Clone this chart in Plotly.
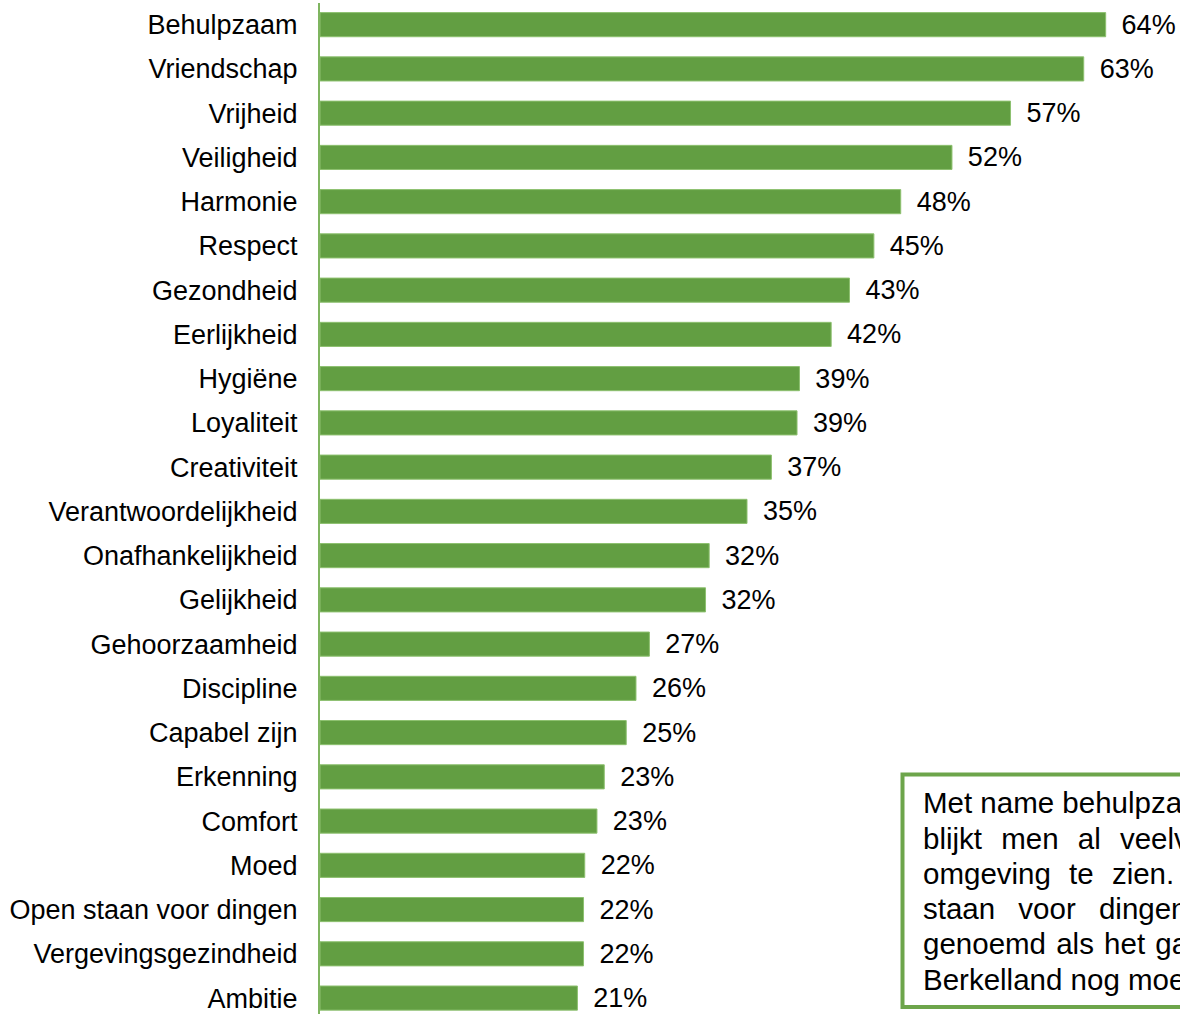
import plotly.graph_objects as go

categories = [
    "Behulpzaam", "Vriendschap", "Vrijheid", "Veiligheid", "Harmonie", "Respect",
    "Gezondheid", "Eerlijkheid", "Hygiëne", "Loyaliteit", "Creativiteit",
    "Verantwoordelijkheid", "Onafhankelijkheid", "Gelijkheid", "Gehoorzaamheid",
    "Discipline", "Capabel zijn", "Erkenning", "Comfort", "Moed",
    "Open staan voor dingen", "Vergevingsgezindheid", "Ambitie",
]
values = [
    64.4, 62.6, 56.6, 51.8, 47.6, 45.4,
    43.4, 41.9, 39.3, 39.1, 37.0,
    35.0, 31.9, 31.6, 27.0,
    25.9, 25.1, 23.3, 22.7, 21.7,
    21.6, 21.6, 21.1,
]
box_lines = [
    "Met name behulpzaamheid",
    "blijkt men al veelvuldig",
    "omgeving te zien. Open",
    "staan voor dingen wordt",
    "genoemd als het gaat",
    "Berkelland nog moet",
]
box_word_spacing = [0, 11, 10, 15, 2, 0]

FONT = "Liberation Sans, Arial, sans-serif"
FS = 27
FS_BOX = 29.5
W, H = 1180, 1014
L, T, B = 320, 3, 0

fig = go.Figure()
fig.add_trace(go.Bar(
    x=values, y=categories, orientation="h",
    marker=dict(color="#629E42", line=dict(color="#8DC06F", width=1)),
    texttemplate="\u00a0\u2009%{x:.0f}%", textposition="outside",
    constraintext="none",
    textfont=dict(family=FONT, size=FS, color="#000000"),
    cliponaxis=False, hoverinfo="skip",
))

plot_h = H - T - B
annotations = []
for i, line in enumerate(box_lines):
    ypix = 803 + i * 35.2
    ws = box_word_spacing[i]
    txt = f'<span style="word-spacing:{ws}px">{line}</span>' if ws else line
    annotations.append(dict(
        xref="paper", yref="paper",
        x=(921 - L) / (W - L), y=(H - B - ypix) / plot_h,
        xanchor="left", yanchor="middle", showarrow=False,
        text=txt, align="left",
        font=dict(family=FONT, size=FS_BOX, color="#000000"),
    ))

fig.update_layout(
    width=W, height=H,
    margin=dict(l=L, r=0, t=T, b=B, pad=0),
    paper_bgcolor="white", plot_bgcolor="white",
    showlegend=False,
    bargap=0.455,
    xaxis=dict(range=[0, (W - L) / 12.2], visible=False, fixedrange=True),
    yaxis=dict(
        type="category", categoryorder="array", categoryarray=categories,
        range=[22.36, -0.49], showgrid=False, zeroline=False, fixedrange=True,
        showline=True, linecolor="#7FB560", linewidth=2,
        ticks="", ticklabelstandoff=15,
        tickfont=dict(family=FONT, size=FS, color="#000000"),
    ),
    shapes=[dict(
        type="rect", xref="paper", yref="paper",
        x0=(902.5 - L) / (W - L), x1=1.2,
        y0=(H - B - 1007) / plot_h, y1=(H - B - 774.5) / plot_h,
        line=dict(color="#6DA54B", width=4), fillcolor="white", layer="above",
    )],
    annotations=annotations,
)

fig.write_html(
    "out.html",
    config={"displayModeBar": False},
    post_script="document.body.style.margin='0';document.body.style.overflow='hidden';",
)
